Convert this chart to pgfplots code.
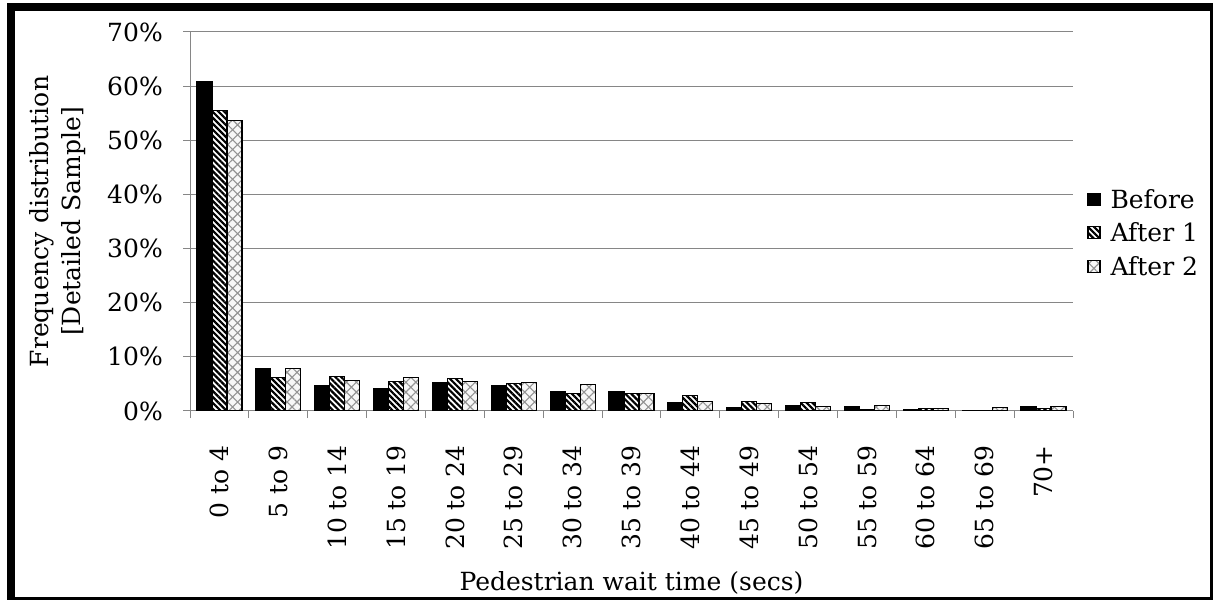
\documentclass[border=0pt]{standalone}
\usepackage{fontspec}
\setmainfont{DejaVu Serif}
\usepackage{pgfplots}
\pgfplotsset{compat=1.18}
\usetikzlibrary{patterns.meta}
\definecolor{gridgray}{RGB}{134,134,134}
\begin{document}
\begin{tikzpicture}
\begin{axis}[
  at={(190bp,189bp)}, anchor=south west,
  width=883bp, height=379bp, scale only axis,
  font=\fontsize{25bp}{32bp}\selectfont,
  /pgf/number format/assume math mode=true,
  ybar=0pt, bar width=15bp,
  xmin=-0.5, xmax=14.5, ymin=0, ymax=70,
  axis x line*=bottom, axis y line*=left,
  axis line style={draw=gridgray, line width=1bp, -},
  ymajorgrids, grid style={draw=gridgray, line width=1bp},
  ytick={0,10,...,70},
  yticklabel={\pgfmathprintnumber{\tick}\%},
  xtick={0,...,14},
  xticklabels={0 to 4,5 to 9,10 to 14,15 to 19,20 to 24,25 to 29,30 to 34,35 to 39,40 to 44,45 to 49,50 to 54,55 to 59,60 to 64,65 to 69,70+},
  minor xtick={-0.5,0.5,...,14.5},
  tick align=outside,
  major tick length=7bp, minor tick length=7bp,
  major x tick style={draw=none},
  minor x tick style={draw=gridgray, line width=1bp},
  y tick style={draw=gridgray, line width=1bp},
  xticklabel style={rotate=90, anchor=east, inner sep=0pt},
  yticklabel style={anchor=east, inner sep=0pt},
  xticklabel shift=27bp,
  yticklabel shift=20bp,
  xlabel={Pedestrian wait time (secs)},
  xlabel style={at={(axis description cs:0.5,-0.455)}, anchor=center},
  ylabel={{Frequency distribution\\{[Detailed Sample]}}},
  ylabel style={at={(axis description cs:-0.150,0.5)}, anchor=center, align=center, rotate=0},
  legend style={at={(axis description cs:1.016,0.47)}, anchor=west, draw=none, fill=none,
    font=\fontsize{25bp}{32bp}\selectfont, row sep=9bp, inner sep=0pt},
  legend cell align=left,
  legend image code/.code={\draw[#1] (0bp,-6bp) rectangle (12bp,6bp); \path (20bp,0bp);},
]
\addplot[draw=black, line width=1.2bp, fill=black] coordinates {
(0,60.8) (1,7.9) (2,4.6) (3,4.2) (4,5.3) (5,4.7) (6,3.5) (7,3.5) (8,1.6) (9,0.7) (10,1.0) (11,0.9) (12,0.3) (13,0) (14,0.8)};
\addplot[draw=black, line width=1.2bp, fill=white, postaction={pattern={Lines[angle=-45,distance=4.2bp,line width=2.2bp]}, pattern color=black}] coordinates {
(0,55.5) (1,6.2) (2,6.3) (3,5.5) (4,6.0) (5,5.1) (6,3.3) (7,3.3) (8,2.9) (9,1.7) (10,1.5) (11,0.3) (12,0.5) (13,0) (14,0.4)};
\addplot[draw=black, line width=1.2bp, fill=gray!6, postaction={pattern={Hatch[angle=45,distance=7bp,line width=1.1bp]}, pattern color=gray!85}] coordinates {
(0,53.6) (1,7.9) (2,5.7) (3,6.2) (4,5.5) (5,5.2) (6,4.9) (7,3.2) (8,1.7) (9,1.4) (10,0.8) (11,1.0) (12,0.4) (13,0.7) (14,0.9)};
\legend{Before,After 1,After 2}
\end{axis}
\draw[line width=7.5bp] (11bp,-0.8bp) rectangle (1214.2bp,592.8bp);
\pgfresetboundingbox
\path (0bp,0bp) rectangle (1213bp,600bp);
\end{tikzpicture}
\end{document}
